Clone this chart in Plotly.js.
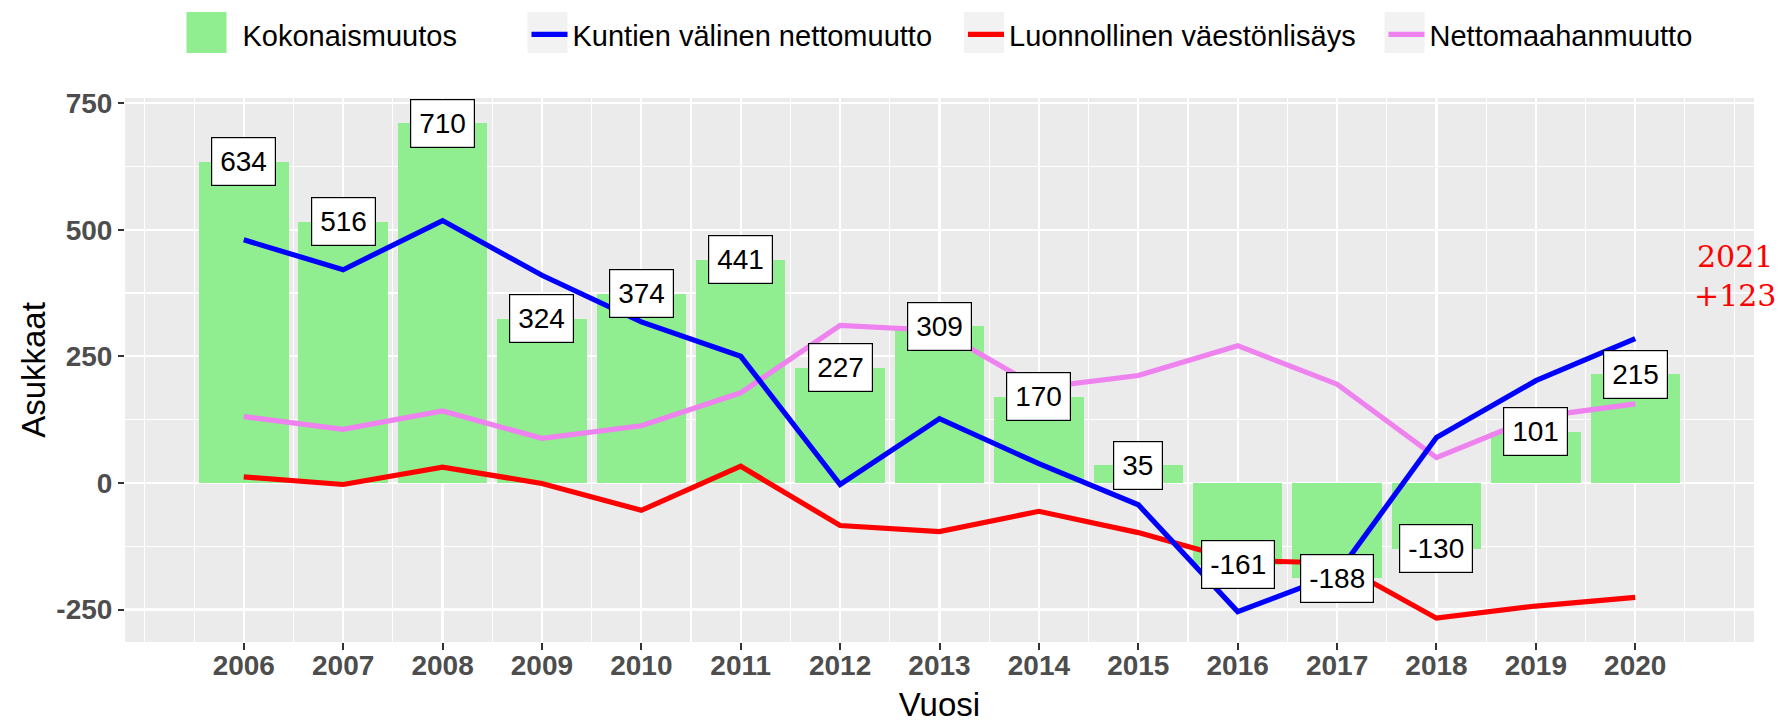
<!DOCTYPE html>
<html>
<head>
<meta charset="utf-8">
<script src="https://cdn.plot.ly/plotly-3.0.1.min.js"></script>
<style>
html,body{margin:0;padding:0;background:#ffffff;}
#chart{width:1780px;height:723px;}
</style>
</head>
<body>
<div id="chart"></div>
<script>
// ---- data ----
const years = [2006,2007,2008,2009,2010,2011,2012,2013,2014,2015,2016,2017,2018,2019,2020];
const kokonaismuutos = [634,516,710,324,374,441,227,309,170,35,-161,-188,-130,101,215];
const kuntienValinenNettomuutto = [480,421,518,410,318,250,-3,127,38,-43,-254,-180,90,202,285];
const luonnollinenVaestonlisays = [12,-3,31,-1,-54,33,-84,-96,-56,-98,-153,-158,-267,-243,-226];
const nettomaahanmuutto = [131,106,142,88,113,178,311,301,188,212,271,195,50,130,156];
const yTickVals = [-250,0,250,500,750];
const noteYear = 2021;
const noteChange = '+123';
const noteY = 409;

const FONT = 'Liberation Sans, Arial, Helvetica, sans-serif';

// ---- layout geometry helpers (pixel -> paper) ----
const W = 1780, H = 723;
const M = {l:125, r:26, t:98, b:81};
const pw = W - M.l - M.r, ph = H - M.t - M.b;
const px2x = p => (p - M.l) / pw;
const px2y = p => (H - M.b - p) / ph;

const traces = [
  {
    type:'bar', name:'Kokonaismuutos', x: years, y: kokonaismuutos, width:0.9,
    marker:{color:'#90EE90', line:{width:0}}, legend:'legend'
  },
  {
    type:'scatter', mode:'lines', name:'Luonnollinen väestönlisäys', x: years, y: luonnollinenVaestonlisays,
    line:{color:'#FF0000', width:5.2}, legend:'legend3'
  },
  {
    type:'scatter', mode:'lines', name:'Nettomaahanmuutto', x: years, y: nettomaahanmuutto,
    line:{color:'#EE82EE', width:5.2}, legend:'legend4'
  },
  {
    type:'scatter', mode:'lines', name:'Kuntien välinen nettomuutto', x: years, y: kuntienValinenNettomuutto,
    line:{color:'#0000FF', width:5.2}, legend:'legend2'
  }
];

const labelAnn = years.map((yr, i) => ({
  x: yr, y: kokonaismuutos[i], xref:'x', yref:'y',
  text: String(kokonaismuutos[i]), showarrow:false,
  xanchor:'center', yanchor:'middle',
  font:{family:FONT, size:28, color:'#000000'},
  bgcolor:'#FFFFFF', bordercolor:'#000000', borderwidth:1.2, borderpad:8
}));

const noteAnn = {
  x: noteYear, y: noteY, xref:'x', yref:'y',
  text: String(noteYear) + '<br>' + noteChange, showarrow:false,
  xanchor:'center', yanchor:'middle',
  font:{family:'DejaVu Serif, serif', size:30, color:'#FF0000'}
};

// legend key boxes (ggplot-style), centres in px
const keyCentres = [206.5, 547.5, 984, 1404.5];
const keyFills = ['#90EE90', '#F2F2F2', '#F2F2F2', '#F2F2F2'];
const keyBoxes = keyCentres.map((c, i) => ({
  type:'rect', xref:'paper', yref:'paper', layer:'above',
  x0: px2x(c - 20), x1: px2x(c + 20), y0: px2y(53), y1: px2y(12),
  fillcolor:keyFills[i], line:{width:0}
}));

const ITEMW = 36;
// symbol centre offset inside each key box
const symShift = [13, 2, 2, 2];
const makeLegend = i => ({
  orientation:'h', xref:'container', yref:'container', xanchor:'left', yanchor:'top',
  x: (keyCentres[i] + symShift[i] - (ITEMW + 10) / 2) / W,
  y: 1 - 9/H, bgcolor:'rgba(0,0,0,0)', borderwidth:0, itemwidth:ITEMW,
  font:{family:FONT, size:29, color:'#000000'}, itemclick:false, itemdoubleclick:false
});

const layout = {
  width:W, height:H,
  margin:M,
  paper_bgcolor:'#FFFFFF', plot_bgcolor:'#EBEBEB',
  font:{family:FONT, color:'#000000'},
  showlegend:true,
  legend: makeLegend(0),
  legend2: makeLegend(1),
  legend3: makeLegend(2),
  legend4: makeLegend(3),
  bargap:0,
  xaxis:{
    range:[2004.805, 2021.195], tickmode:'array', tickvals: years, ticktext: years.map(String),
    ticks:'outside', ticklen:7, tickwidth:2, tickcolor:'#333333', ticklabelstandoff:-9,
    tickfont:{family:FONT, size:28, color:'#4D4D4D', weight:'bold'},
    showgrid:true, gridcolor:'#FFFFFF', gridwidth:2.2,
    minor:{tickmode:'linear', tick0:2005, dtick:0.5, showgrid:true, gridcolor:'#FFFFFF', gridwidth:1.1, ticks:''},
    zeroline:false, showline:false, fixedrange:true,
    title:{text:'Vuosi', font:{family:FONT, size:33, color:'#000000'}, standoff:33}
  },
  yaxis:{
    range:[-314, 760], tickmode:'array', tickvals: yTickVals, ticktext: yTickVals.map(String),
    ticks:'outside', ticklen:6, tickwidth:2, tickcolor:'#333333',
    tickfont:{family:FONT, size:28, color:'#4D4D4D', weight:'bold'},
    showgrid:true, gridcolor:'#FFFFFF', gridwidth:2.2,
    minor:{tickmode:'linear', tick0:-125, dtick:250, showgrid:true, gridcolor:'#FFFFFF', gridwidth:1.1, ticks:''},
    zeroline:false, showline:false, fixedrange:true,
    title:{text:'Asukkaat', font:{family:FONT, size:33, color:'#000000'}, standoff:0}
  },
  annotations: labelAnn.concat([noteAnn]),
  shapes: keyBoxes
};

Plotly.newPlot('chart', traces, layout, {displayModeBar:false, staticPlot:true});
</script>
</body>
</html>
